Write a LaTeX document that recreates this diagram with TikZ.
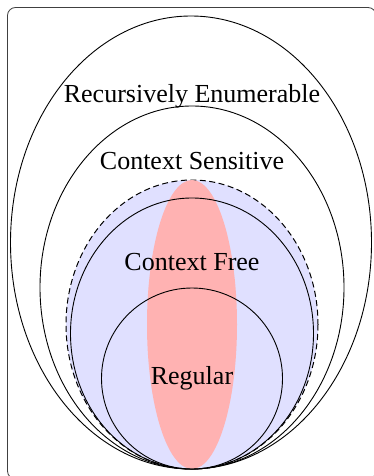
\documentclass[tikz,border=0pt]{standalone}
\usepackage{fontspec}
\setmainfont{Liberation Serif}
\begin{document}
\begin{tikzpicture}[x=1pt,y=-1pt,
  setline/.style={draw=black,line width=0.9pt},
  lbl/.style={font=\fontsize{26}{30}\selectfont,inner sep=0pt}]
\useasboundingbox (0,0) rectangle (373,476);
\draw[line width=0.8pt,black!75,rounded corners=8pt] (7.5,7.5) rectangle (376,479);
% outer sets
\draw[setline] (191,242.5) ellipse [x radius=180.5,y radius=226.5];
\draw[setline] (192,287.5) ellipse [x radius=152,y radius=181.5];
% dashed, blue
\filldraw[fill=blue!12,draw=black,line width=1pt,dash pattern=on 6pt off 3.5pt] (192,324.5) ellipse [x radius=126,y radius=144.5];
% red ellipse
\fill[red!30] (192,324.5) ellipse [x radius=45,y radius=144.5];
\draw[setline] (192,333.5) ellipse [x radius=121.5,y radius=135.5];
\draw[setline] (192,378.5) ellipse [x radius=90.5,y radius=90.5];
\node[lbl] (re) at (192,96.5) {Recursively Enumerable};
\node[lbl] (cs) at (192,161.5) {Context Sensitive};
\node[lbl] (cf) at (192,262.5) {Context Free};
\node[lbl] (reg) at (192,378.5) {Regular};
\end{tikzpicture}
\end{document}
